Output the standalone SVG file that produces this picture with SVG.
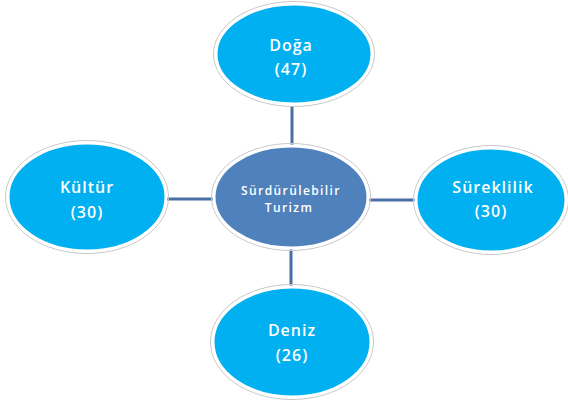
<svg xmlns="http://www.w3.org/2000/svg" width="568" height="401" viewBox="0 0 568 401">
<style>
.halo{fill:none;stroke:#c8c8c8;stroke-width:1}
.leaf{fill:#00B0F0;stroke:#ffffff;stroke-width:3}
.hub{fill:#4F81BD;stroke:#ffffff;stroke-width:3}
.t{font-family:"Open Sans","Liberation Sans",sans-serif;font-weight:600;fill:#ffffff;text-anchor:middle}
.lt{font-size:16px;letter-spacing:1px}
.ht{font-size:12px;letter-spacing:1.4px}
.c{stroke:#4A6FA5;stroke-width:3;fill:none}
</style>
<rect width="568" height="401" fill="#ffffff"/>
<g id="connectors">
<line class="c" x1="292" y1="106" x2="292" y2="146"/>
<line class="c" x1="166" y1="199" x2="214" y2="199"/>
<line class="c" x1="367" y1="200" x2="416" y2="200"/>
<line class="c" x1="291" y1="247" x2="291" y2="287"/>
</g>
<g id="doga">
<ellipse class="halo" cx="294" cy="54" rx="80.5" ry="52.5"/>
<ellipse class="leaf" cx="294" cy="54" rx="78" ry="50"/>
<text class="t lt" x="291" y="51">Doğa</text>
<text class="t lt" x="291" y="75">(47)</text>
</g>
<g id="surdurulebilir">
<ellipse class="halo" cx="291" cy="197" rx="79.5" ry="53.5"/>
<ellipse class="hub" cx="291" cy="197" rx="77" ry="51"/>
<text class="t ht" x="291" y="195">Sürdürülebilir</text>
<text class="t ht" x="289" y="212">Turizm</text>
</g>
<g id="kultur">
<ellipse class="halo" cx="87" cy="197" rx="81.5" ry="56.5"/>
<ellipse class="leaf" cx="87" cy="197" rx="79" ry="54"/>
<text class="t lt" x="87" y="193">Kültür</text>
<text class="t lt" x="87" y="218">(30)</text>
</g>
<g id="sureklilik">
<ellipse class="halo" cx="491" cy="200" rx="77.5" ry="54.5"/>
<ellipse class="leaf" cx="491" cy="200" rx="75" ry="52"/>
<text class="t lt" x="493" y="193">Süreklilik</text>
<text class="t lt" x="491" y="217">(30)</text>
</g>
<g id="deniz">
<ellipse class="halo" cx="292" cy="342" rx="81.5" ry="57.5"/>
<ellipse class="leaf" cx="292" cy="342" rx="79" ry="55"/>
<text class="t lt" x="292" y="336">Deniz</text>
<text class="t lt" x="292" y="361">(26)</text>
</g>
</svg>
